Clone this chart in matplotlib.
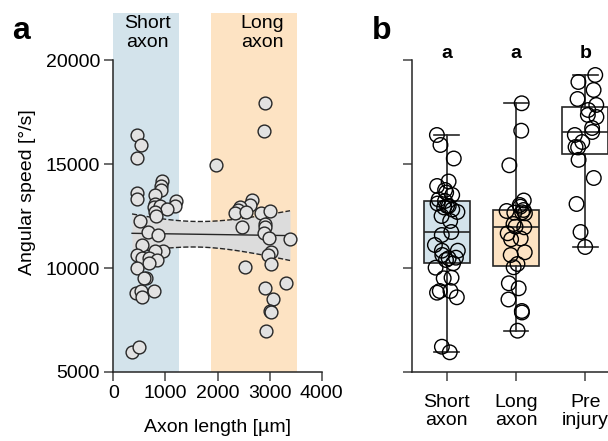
import numpy as np
import matplotlib.pyplot as plt

plt.rcParams['font.family'] = ['Liberation Sans', 'DejaVu Sans']

# short axon group: length (um), angular speed (deg/s)
short_len = [450, 533, 462, 927, 908, 908, 456, 456, 792, 802, 773, 888, 1196,
             1187, 1033, 802, 821, 504, 667, 865, 546, 962, 802, 462, 546, 692,
             835, 692, 462, 623, 596, 437, 527, 546, 788, 360, 500]
short_speed = [16395, 15914, 15265, 14159, 13943, 13751, 13630, 13294, 13510,
               13101, 12909, 12981, 13222, 12981, 12813, 12693, 12500, 12260,
               11731, 11587, 11106, 10832, 10832, 10625, 10496, 10467, 10385,
               10226, 10015, 9534, 9505, 8813, 8895, 8592, 8895, 5947, 6216]

# long axon group
long_len = [2917, 2892, 1969, 2662, 2629, 2423, 2392, 2340, 2552, 2840, 3000,
            2469, 2917, 2917, 2885, 2981, 3392, 3027, 2969, 3033, 2519, 2904,
            3321, 3065, 3013, 3023, 2937]
long_speed = [17919, 16602, 14938, 13246, 13030, 12948, 12789, 12659, 12678,
              12630, 12741, 11957, 12116, 11986, 11669, 11419, 11380, 10755,
              10625, 10193, 10034, 9024, 9265, 8486, 7933, 7861, 6986]

# pre injury
pre_speed = [19280, 18943, 18559, 18126, 17838, 17597, 17357, 17260, 16731,
             16539, 16395, 16058, 15818, 15794, 15200, 14328, 13078, 11731, 11010]

groups = ['Short\naxon', 'Long\naxon', 'Pre\ninjury']
sig_letters = ['a', 'a', 'b']

blue = '#d3e3eb'
peach = '#fde3c3'
dark = '#262626'

fig = plt.figure(figsize=(6.08, 4.41), dpi=100)
W, H = 608, 441
ax1 = fig.add_axes([113.3/W, 69/H, 208.4/W, 359/H])
ax2 = fig.add_axes([412/W, 69/H, 208/W, 359/H])

# ---- panel a
ax1.axvspan(0, 1260, color=blue, lw=0, zorder=0)
ax1.axvspan(1880, 3530, color=peach, lw=0, zorder=0)

x = np.array(short_len + long_len, float)
y = np.array(short_speed + long_speed, float)
b, a = np.polyfit(x, y, 1)
xs = np.linspace(x.min(), x.max(), 100)
ys = a + b*xs
n = len(x)
res = y - (a + b*x)
s = np.sqrt(np.sum(res**2)/(n-2))
se = s*np.sqrt(1/n + (xs - x.mean())**2/np.sum((x - x.mean())**2))
ci = 1.999*se
ax1.fill_between(xs, ys-ci, ys+ci, color='#dcdcdc', lw=0, zorder=1)
ax1.plot(xs, ys+ci, '--', color=dark, lw=1, zorder=2)
ax1.plot(xs, ys-ci, '--', color=dark, lw=1, zorder=2)
ax1.plot(xs, ys, '-', color=dark, lw=1, zorder=2)
ax1.scatter(x, y, s=85, facecolor='#e2e2e2', edgecolor=dark, lw=1, zorder=3)

ax1.text(661, 22150, 'Short\naxon', ha='center', va='top', fontsize=14, linespacing=1.15)
ax1.text(2860, 22150, 'Long\naxon', ha='center', va='top', fontsize=14, linespacing=1.15)

ax1.set_xlim(0, 4000)
ax1.set_ylim(5000, 22260)
ax1.set_xticks([0, 1000, 2000, 3000, 4000])
ax1.set_yticks([5000, 10000, 15000, 20000])
ax1.set_xlabel('Axon length [µm]', fontsize=14, labelpad=12)
ax1.set_ylabel('Angular speed [°/s]', fontsize=14, labelpad=7)

# ---- panel b
data_b = [short_speed, long_speed, pre_speed]
bp = ax2.boxplot(data_b, positions=[0, 1, 2], widths=0.66, whis=(0, 100),
                 patch_artist=True, showfliers=False,
                 medianprops=dict(color=dark, lw=1.2),
                 whiskerprops=dict(color=dark, lw=1.2),
                 capprops=dict(color=dark, lw=1.2),
                 boxprops=dict(edgecolor=dark, lw=1.2))
for patch, c in zip(bp['boxes'], [blue, peach, 'white']):
    patch.set_facecolor(c)
for cap in bp['caps']:
    xd = cap.get_xdata()
    m = xd.mean()
    cap.set_xdata([m - 0.18, m + 0.18])

rng = np.random.default_rng(3)
for i, vals in enumerate(data_b):
    jit = rng.uniform(-0.17, 0.17, len(vals))
    ax2.scatter(i + jit, vals, s=110, facecolor='none', edgecolor='black',
                lw=1, zorder=4)
    ax2.text(i, 20120, sig_letters[i], ha='center', va='baseline',
             fontsize=14, fontweight='bold')

ax2.set_xlim(-0.5, 2.5)
ax2.set_ylim(5000, 22260)
ax2.set_yticks([5000, 10000, 15000, 20000])
ax2.set_yticklabels([])
ax2.set_xticks([0, 1, 2])
ax2.set_xticklabels(groups, fontsize=14, linespacing=1.15)

for ax in (ax1, ax2):
    ax.spines['top'].set_visible(False)
    ax.spines['right'].set_visible(False)
    ax.spines['left'].set_bounds(5000, 20000)
    for sp in ('left', 'bottom'):
        ax.spines[sp].set_color(dark)
        ax.spines[sp].set_linewidth(1.1)
    ax.tick_params(direction='out', length=6.5, width=1.1, color='#444444',
                   labelsize=14, pad=3)
ax1.spines['bottom'].set_bounds(0, 4000)
ax2.tick_params(axis='x', pad=9)

fig.text(12/W, 1 - 39/H, 'a', fontsize=23, fontweight='bold', va='baseline')
fig.text(372/W, 1 - 39/H, 'b', fontsize=23, fontweight='bold', va='baseline')

fig.savefig('out.png', dpi=100)
